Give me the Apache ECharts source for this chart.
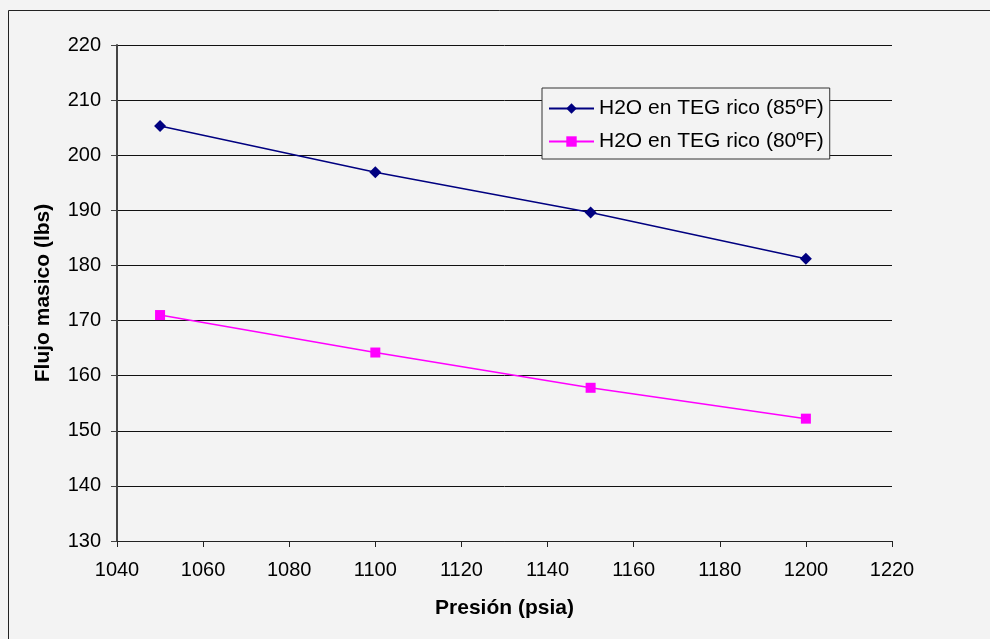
<!DOCTYPE html>
<html>
<head>
<meta charset="utf-8">
<script src="https://cdn.jsdelivr.net/npm/echarts@6/dist/echarts.min.js"></script>
<style>
  html, body { margin: 0; padding: 0; background: #f3f3f3; }
  #chart { width: 990px; height: 639px; }
</style>
</head>
<body>
<div id="chart"></div>
<script>
// Pressure (psia) and water mass flow in rich TEG (lbs)
const presion = [1050, 1100, 1150, 1200];
const flujo85F = [205.3, 196.9, 189.6, 181.2];
const flujo80F = [171.0, 164.2, 157.8, 152.2];
const serie85Nombre = 'H2O en TEG rico (85ºF)';
const serie80Nombre = 'H2O en TEG rico (80ºF)';

const font = 'Liberation Sans, Arial, sans-serif';
const chart = echarts.init(document.getElementById('chart'), null, { renderer: 'canvas' });

chart.setOption({
  backgroundColor: '#f3f3f3',
  animation: false,
  graphic: [{
    type: 'rect',
    shape: { x: 8.5, y: 10.5, width: 1200, height: 1000 },
    style: { fill: 'none', stroke: '#222', lineWidth: 1 },
    silent: true
  }],
  grid: { left: 117, top: 45, right: 98, bottom: 98, show: false },
  legend: {
    orient: 'vertical',
    left: 542,
    top: 88,
    padding: [10, 6, 7, 6],
    itemGap: 12,
    itemWidth: 45,
    itemHeight: 13,
    backgroundColor: '#f3f3f3',
    borderColor: '#333',
    borderWidth: 1,
    textStyle: { fontFamily: font, fontSize: 21, color: '#000', padding: [0, 0, 0, 0] },
    data: [serie85Nombre, serie80Nombre]
  },
  xAxis: {
    type: 'value',
    min: 1040, max: 1220, interval: 20,
    name: 'Presión (psia)',
    nameLocation: 'middle',
    nameGap: 57,
    nameTextStyle: { fontFamily: font, fontSize: 21, fontWeight: 'bold', color: '#000' },
    axisLine: { show: true, lineStyle: { color: '#222', width: 1 } },
    axisTick: { show: true, length: 6, inside: false, lineStyle: { color: '#222' } },
    axisLabel: { fontFamily: font, fontSize: 20, color: '#000', margin: 19, formatter: v => String(v) },
    splitLine: { show: false }
  },
  yAxis: {
    type: 'value',
    min: 130, max: 220, interval: 10,
    name: 'Flujo masico (lbs)',
    nameLocation: 'middle',
    nameGap: 63,
    nameRotate: 90,
    nameTextStyle: { fontFamily: font, fontSize: 21, fontWeight: 'bold', color: '#000' },
    axisLine: { show: true, lineStyle: { color: '#444', width: 2 } },
    axisTick: { show: true, length: 6, lineStyle: { color: '#444' } },
    axisLabel: { fontFamily: font, fontSize: 20, color: '#000', margin: 16, formatter: v => String(v) },
    splitLine: { show: true, lineStyle: { color: '#111', width: 1 } }
  },
  series: [
    {
      name: serie85Nombre,
      type: 'line',
      data: presion.map((p, i) => [p, flujo85F[i]]),
      symbol: 'diamond',
      symbolSize: 12,
      lineStyle: { color: '#000080', width: 1.5 },
      itemStyle: { color: '#000080' },
      z: 3
    },
    {
      name: serie80Nombre,
      type: 'line',
      data: presion.map((p, i) => [p, flujo80F[i]]),
      symbol: 'rect',
      symbolSize: 10,
      lineStyle: { color: '#ff00ff', width: 1.5 },
      itemStyle: { color: '#ff00ff' },
      z: 3
    }
  ]
});
</script>
</body>
</html>
